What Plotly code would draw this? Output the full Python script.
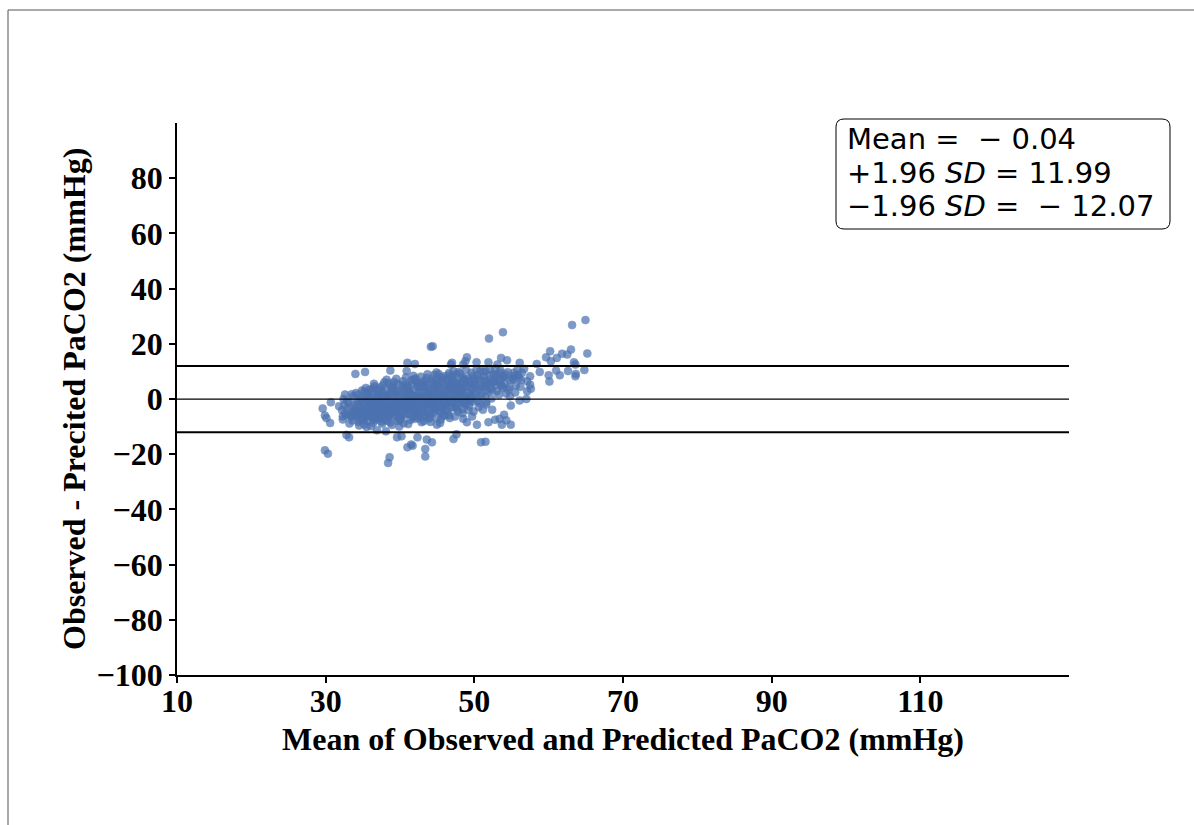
import plotly.graph_objects as go

# ---- summary statistics ----
mean_diff = -0.04
upper_loa = 11.99
lower_loa = -12.07

# ---- core cloud (mean of observed & predicted, difference) ----
x_core = [
    32.2, 32.5, 32.8, 32.9, 32.6, 32.3, 32.9,
    33.1, 33.3, 33.4, 33.6, 33.7, 33.8, 33.2, 33.5, 33.9, 33.6,
    34.0, 34.1, 34.2, 34.3, 34.4, 34.5, 34.6, 34.7, 34.8, 34.9, 34.2, 34.5, 34.8, 34.4,
    35.0, 35.1, 35.2, 35.3, 35.4, 35.5, 35.6, 35.7, 35.8, 35.9, 35.2, 35.4, 35.6, 35.8, 35.1, 35.9,
    36.0, 36.1, 36.2, 36.3, 36.4, 36.5, 36.6, 36.7, 36.8, 36.9, 36.2, 36.4, 36.6, 36.8, 36.1, 36.5, 36.7, 36.9,
    37.0, 37.1, 37.2, 37.3, 37.4, 37.5, 37.6, 37.7, 37.8, 37.9, 37.2, 37.4, 37.6, 37.8, 37.1, 37.5, 37.7, 37.9,
    38.0, 38.1, 38.2, 38.3, 38.4, 38.5, 38.6, 38.7, 38.8, 38.9, 38.2, 38.4, 38.6, 38.8, 38.1, 38.5, 38.7, 38.9,
    39.0, 39.1, 39.2, 39.3, 39.4, 39.5, 39.6, 39.7, 39.8, 39.9, 39.2, 39.4, 39.6, 39.8, 39.1, 39.5, 39.7, 39.9,
    40.0, 40.1, 40.2, 40.3, 40.4, 40.5, 40.6, 40.7, 40.8, 40.9, 40.2, 40.4, 40.6, 40.8, 40.1, 40.5, 40.7, 40.9,
    41.0, 41.1, 41.2, 41.3, 41.4, 41.5, 41.6, 41.7, 41.8, 41.9, 41.2, 41.4, 41.6, 41.8, 41.1, 41.5, 41.7, 41.9,
    42.0, 42.1, 42.2, 42.3, 42.4, 42.5, 42.6, 42.7, 42.8, 42.9, 42.2, 42.4, 42.6, 42.8, 42.1, 42.5, 42.7, 42.9,
    43.0, 43.1, 43.2, 43.3, 43.4, 43.5, 43.6, 43.7, 43.8, 43.9, 43.2, 43.4, 43.6, 43.8, 43.1, 43.5, 43.7, 43.9,
    44.0, 44.1, 44.2, 44.3, 44.4, 44.5, 44.6, 44.7, 44.8, 44.9, 44.2, 44.4, 44.6, 44.8, 44.1, 44.5, 44.7, 44.9,
    45.0, 45.1, 45.2, 45.3, 45.4, 45.5, 45.6, 45.7, 45.8, 45.9, 45.2, 45.4, 45.6, 45.8, 45.1, 45.5, 45.7, 45.9,
    46.0, 46.1, 46.2, 46.3, 46.4, 46.5, 46.6, 46.7, 46.8, 46.9, 46.2, 46.4, 46.6, 46.8, 46.1, 46.5, 46.7, 46.9,
    47.0, 47.1, 47.2, 47.3, 47.4, 47.5, 47.6, 47.7, 47.8, 47.9, 47.2, 47.4, 47.6, 47.8, 47.1, 47.5, 47.7, 47.9,
    48.0, 48.1, 48.2, 48.3, 48.4, 48.5, 48.6, 48.7, 48.8, 48.9, 48.2, 48.4, 48.6, 48.8, 48.1, 48.5,
    49.0, 49.1, 49.2, 49.3, 49.4, 49.5, 49.6, 49.7, 49.8, 49.9, 49.2, 49.6, 49.8, 49.4,
    50.0, 50.2, 50.4, 50.5, 50.7, 50.9, 50.3, 50.6, 50.8, 50.1,
    51.1, 51.3, 51.5, 51.7, 51.9, 51.2, 51.6, 51.8,
    52.1, 52.4, 52.6, 52.8, 52.3, 52.9,
    53.2, 53.5, 53.8, 53.3, 53.9,
    54.1, 54.5, 54.8, 54.3,
    55.4, 55.8, 56.3, 56.7, 55.6,
]
y_core = [
    -4.1, -2.3, -6.0, -0.8, -5.2, -7.4, -3.5,
    -1.2, -5.6, -3.0, -7.8, 0.9, -4.4, -8.9, 1.7, -2.1, -6.5,
    -3.7, 2.2, -6.1, -1.0, -8.3, -4.9, 0.4, -2.8, -7.0, 3.1, -5.3, -9.6, -0.3, 1.5,
    -4.2, -1.9, 2.7, -6.8, -3.3, 0.8, -8.1, -5.0, 1.9, -2.4, -9.2, 4.0, -0.6, -6.2, -7.5, 3.4,
    -3.0, 0.2, -5.7, 2.9, -8.6, -1.4, 4.6, -4.5, -6.9, 1.1, -2.2, 3.8, -7.7, -0.5, -9.8, 5.5, -3.6, -5.1,
    -2.6, 1.6, -7.2, 4.2, -4.0, -0.1, -9.0, 2.4, -5.9, 6.1, -1.7, 3.3, -3.2, 0.7, -6.4, -8.2, 5.0, -2.9,
    -4.8, 0.9, 3.6, -7.9, -1.1, 5.8, -5.5, 2.0, -3.4, -9.4, 7.0, -6.6, -0.4, 4.4, -2.5, 1.3, -8.5, -4.3,
    -2.0, 4.9, -6.3, 1.8, -3.9, 7.3, -0.7, -8.0, 3.0, -5.2, 6.2, -1.5, 2.6, -7.1, -4.6, 0.3, 5.4, -10.0,
    -3.1, 2.3, -6.0, 5.1, -0.9, -8.8, 3.9, -4.1, 7.8, 0.5, -2.4, 6.4, -5.8, 1.4, -7.3, -1.8, 4.7, -3.7,
    -1.3, 4.1, -5.4, 2.1, -7.6, 6.7, -2.7, 0.6, 8.4, -4.4, 3.2, -0.2, 5.6, -6.2, -9.1, 1.7, -3.5, 7.1,
    -2.2, 3.4, -5.0, 6.0, 0.1, -7.0, 4.5, -1.6, 8.1, -3.8, 1.2, -6.1, 2.8, -0.6, 7.4, -4.7, 5.3, -8.4,
    0.9, -3.3, 5.2, -6.4, 2.5, -1.0, 7.6, -4.9, 3.7, -0.3, -8.0, 6.5, -2.5, 1.6, 4.4, -5.6, 9.0, -7.2,
    1.9, -2.8, 6.3, -5.3, 3.5, -0.4, 8.7, -3.6, 4.8, -6.8, 0.6, 7.2, -1.7, 2.4, -8.3, 5.7, -4.3, 9.6,
    2.6, -1.4, 5.9, -4.2, 0.8, 7.9, -2.9, 3.9, -6.0, 1.5, 9.1, -0.6, 6.1, -3.4, 4.3, -7.4, 0.2, 8.2,
    1.1, 4.6, -2.1, 7.0, -4.8, 2.9, 9.4, -0.8, 5.5, -3.0, 0.4, 6.8, -5.9, 3.2, -1.7, 8.6, -6.9, 1.9,
    3.6, -0.5, 6.6, -3.1, 1.4, 8.9, -1.9, 4.5, -4.6, 2.3, 10.1, -6.3, 5.8, 0.0, 7.7, -2.6, 3.0, 9.8,
    2.0, 5.3, -1.2, 8.0, -3.7, 4.0, 0.7, 6.9, -2.2, 10.4, 3.1, -5.2, 7.5, 1.2, 9.2, -0.9,
    4.4, 0.3, 7.4, -2.5, 5.9, 2.2, 9.5, -1.0, 3.8, 6.5, -4.0, 1.0, 8.3, -0.1,
    5.1, 1.8, 8.6, -0.6, 3.6, 6.8, 10.7, -2.9, 2.0, 7.3,
    4.3, 8.0, 0.9, 6.0, 2.6, 9.9, -1.2, 5.4,
    7.1, 3.2, 9.0, 5.0, 0.2, 7.8,
    6.2, 10.4, 3.9, 1.5, 8.1,
    5.6, 9.7, 6.8, 2.0,
    8.4, 10.6, 6.9, 10.9, 4.9,
]

# ---- extra points in the densest part of the cloud ----
x_dense = [
    34.3, 34.7, 34.9, 35.3, 35.5, 35.7, 35.9, 36.0, 36.3, 36.5, 36.7, 36.9, 37.0, 37.3, 37.5,
    37.7, 37.9, 38.0, 38.3, 38.5, 38.7, 38.9, 39.0, 39.3, 39.5, 39.7, 39.9, 40.0, 40.3, 40.5,
    40.7, 40.9, 41.0, 41.3, 41.5, 41.7, 41.9, 42.0, 42.3, 42.5, 42.7, 42.9, 43.0, 43.3, 43.5,
    43.7, 43.9, 44.0, 44.3, 44.5, 44.7, 44.9, 45.0, 45.3, 45.5, 45.7, 45.9, 46.0, 46.3, 46.5,
    46.7, 46.9, 47.0, 47.3, 47.5, 47.7, 47.9, 48.0, 48.3, 48.5, 48.7, 48.9, 49.1, 49.3, 49.5,
    49.7, 49.9, 50.2, 50.5, 50.8, 51.0, 51.4, 51.7, 52.0, 52.5, 53.0, 53.6, 54.0, 54.7, 55.2, 55.9,
    36.2, 36.8, 37.2, 37.8, 38.2, 38.6, 39.2, 39.6, 40.2, 40.6, 41.2, 41.6, 42.2, 42.6, 43.2,
    43.6, 44.2, 44.6, 45.2, 45.6, 46.2, 46.6, 47.2, 47.6, 48.2, 48.6, 35.0, 35.6, 34.1, 33.9,
    33.4, 34.6, 36.4, 38.0, 40.0, 42.0, 44.0, 46.0, 39.0, 41.0, 43.0, 45.0, 47.0, 37.0, 35.5,
]
y_dense = [
    -2.0, -4.0, -6.0, -1.0, -3.6, -5.8, -0.2, -4.8, -2.7, -6.2, 0.6, -3.2, -5.3, -1.2, -3.8,
    -6.7, 1.2, -2.0, -4.4, -6.0, -0.9, 2.6, -3.4, -5.7, -1.9, 0.9, -3.0, -6.5, -1.3, 1.6,
    -2.8, -5.1, 3.0, -0.7, -4.0, -6.6, 1.0, -2.9, 4.4, -1.1, -5.5, 2.2, -3.9, 0.3, 4.9,
    -1.7, -5.3, 3.0, -0.9, -3.0, 5.3, 1.3, -2.3, 3.4, -5.0, 6.9, -0.9, 2.4, -3.8, 5.0,
    0.0, 3.8, -1.4, 5.2, 1.8, -3.5, 6.0, 0.3, 3.6, 6.3, -1.5, 4.8, 2.2, 6.4, -0.6,
    4.1, 1.2, 4.6, 7.4, 4.9, 1.0, 6.7, 3.4, 8.7, 6.1, 8.9, 5.1, 8.0, 4.2, 7.0, 8.7,
    -1.8, -4.0, -0.6, -2.4, -5.1, -3.0, -2.5, -4.4, -4.5, -0.2, -2.0, -1.0, -3.6, 0.5, -2.0,
    1.2, -1.8, 2.2, -0.2, 1.0, -1.0, 4.2, 0.8, 2.7, 1.9, -0.4, -6.5, -4.3, -5.0, -4.9,
    -6.2, -7.6, -7.0, -7.4, -7.8, -7.2, -6.5, -6.0, 4.0, 5.0, 6.2, 7.0, 8.3, 3.0, 2.0,
]

# ---- scattered points outside the dense cloud ----
x_outer = [
    64.95, 63.15, 53.85, 51.97, 44.15, 44.4, 65.2, 63.0, 61.8, 61.1, 60.2, 59.65, 60.3, 62.5,
    63.4, 63.6, 64.8, 63.65, 63.6, 62.6, 61.5, 61.0, 60.1, 60.0, 58.8, 58.4, 57.5, 57.6, 57.1,
    57.0, 56.1, 56.1, 54.9, 54.8, 54.4, 53.6, 53.1, 51.9, 50.3, 49.0, 48.8, 48.5, 47.0, 46.85,
    42.0, 41.0, 40.9, 38.7, 35.3, 34.0,
    29.6, 29.9, 30.3, 30.6, 30.1, 29.9, 30.7, 31.8, 32.3, 32.8, 33.15, 32.6, 32.4,
    38.4, 38.6, 41.0, 41.5, 41.7, 43.4, 43.4, 43.6, 44.3, 42.35, 40.2, 39.6, 38.1, 36.9, 35.5,
    47.2, 47.6, 50.9, 51.5, 44.96, 45.4,
    53.7, 52.8, 51.9, 50.35, 49.0, 48.5, 49.7, 49.9, 51.15, 51.6, 52.4, 54.0, 54.3, 54.9, 53.4, 50.7,
    50.8, 51.5, 52.1, 52.8, 53.5, 54.2, 55.1, 55.3, 56.0, 56.4, 57.1, 57.5, 56.2, 55.5, 54.6,
    53.7, 53.0, 52.2, 51.5, 52.6, 53.5,
]
y_outer = [
    28.6, 26.8, 24.2, 21.9, 18.9, 19.1, 16.5, 17.9, 16.4, 14.9, 17.3, 15.1, 13.7, 16.1,
    13.3, 12.5, 10.5, 9.1, 8.25, 10.1, 8.6, 10.3, 6.3, 8.6, 9.8, 12.7, 8.2, 3.7, 2.8,
    0.0, 13.1, -0.5, -2.4, 1.0, 14.05, 14.9, 12.5, 13.3, 13.3, 15.1, 13.7, 12.5, 13.1, 12.5,
    12.7, 13.1, 10.1, 10.3, 9.8, 9.1,
    -3.4, -18.6, -19.8, -8.7, -6.9, -6.0, -1.2, -2.6, -6.3, -13.0, -13.9, 1.6, 0.0,
    -23.2, -21.1, -17.5, -16.5, -16.9, -20.8, -18.1, -14.7, -15.7, -13.9, -13.5, -13.9, -11.7, -11.3, -10.1,
    -14.5, -12.8, -15.7, -15.5, -9.3, -8.7,
    -9.3, -7.5, -8.4, -9.3, -8.4, -7.2, -6.3, -4.5, -3.9, -2.0, -3.9, -5.7, -7.7, -9.3, -7.2, -1.4,
    10.1, 10.1, 10.7, 11.0, 9.5, 8.9, 7.6, 9.5, 7.6, 9.5, 6.4, 5.2, 4.4, 2.4, 3.4,
    4.6, 2.8, 4.0, 4.6, 6.4, 7.0,
]

x_ticks = [10, 30, 50, 70, 90, 110]
y_ticks = [-100, -80, -60, -40, -20, 0, 20, 40, 60, 80]

stats_lines = [
    "Mean =  − 0.04",
    "+1.96 <i>SD</i> = 11.99",
    "−1.96 <i>SD</i> =  − 12.07",
]

# ---- layout geometry (pixels) ----
W, H = 1194, 825
ML, MR, MT, MB = 177, 125, 123, 150
PW, PH = W - ML - MR, H - MT - MB


def px_x(p):
    return (p - ML) / PW


def px_y(p):
    return (H - MB - p) / PH


fig = go.Figure()
fig.add_trace(go.Scatter(
    x=x_core + x_dense + x_outer, y=y_core + y_dense + y_outer, mode="markers",
    marker=dict(size=8, color="#4C72B0", opacity=0.72,
                line=dict(width=0.6, color="#4C72B0")),
    showlegend=False, hoverinfo="x+y",
))

shapes = []
for val, w in [(upper_loa, 2), (mean_diff, 1.2), (lower_loa, 2)]:
    shapes.append(dict(type="line", xref="paper", yref="y", x0=0, x1=1,
                       y0=val, y1=val, line=dict(color="black", width=w), layer="above"))

# rounded text box
bx0, bx1, by0, by1, r = px_x(836), px_x(1170), px_y(119), px_y(229), 8
rx, ry = r / PW, r / PH
path = (f"M {bx0+rx},{by0} L {bx1-rx},{by0} Q {bx1},{by0} {bx1},{by0-ry} "
        f"L {bx1},{by1+ry} Q {bx1},{by1} {bx1-rx},{by1} L {bx0+rx},{by1} "
        f"Q {bx0},{by1} {bx0},{by1+ry} L {bx0},{by0-ry} Q {bx0},{by0} {bx0+rx},{by0} Z")
shapes.append(dict(type="path", xref="paper", yref="paper", path=path,
                   line=dict(color="black", width=1), fillcolor="white", layer="above"))

# outer frame (top and left edges)
shapes.append(dict(type="line", xref="paper", yref="paper", x0=px_x(8), x1=px_x(W),
                   y0=px_y(10), y1=px_y(10), line=dict(color="#555555", width=1)))
shapes.append(dict(type="line", xref="paper", yref="paper", x0=px_x(8), x1=px_x(8),
                   y0=px_y(10), y1=px_y(H), line=dict(color="#555555", width=1)))

annotations = []
for line, cy in zip(stats_lines, [139, 173, 206]):
    annotations.append(dict(xref="paper", yref="paper", x=px_x(845), y=px_y(cy),
                            xanchor="left", yanchor="middle", showarrow=False, text=line,
                            font=dict(family="DejaVu Sans", size=29, color="black")))

serif = "Liberation Serif"
annotations.append(dict(xref="paper", yref="paper", x=0.5, y=px_y(739),
                        xanchor="center", yanchor="middle", showarrow=False,
                        text="<b>Mean of Observed and Predicted PaCO2 (mmHg)</b>",
                        font=dict(family=serif, size=32, color="black")))
annotations.append(dict(xref="paper", yref="paper", x=px_x(74), y=0.5,
                        xanchor="center", yanchor="middle", showarrow=False, textangle=-90,
                        text="<b>Observed - Precited PaCO2 (mmHg)</b>",
                        font=dict(family=serif, size=32, color="black")))

axis_common = dict(showline=True, linecolor="black", linewidth=1.5, ticks="outside",
                   ticklen=6, tickwidth=1.5, tickcolor="black", showgrid=False,
                   zeroline=False, mirror=False,
                   tickfont=dict(family=serif, size=32, color="black", weight="bold"))

fig.update_layout(
    width=W, height=H, margin=dict(l=ML, r=MR, t=MT, b=MB),
    paper_bgcolor="white", plot_bgcolor="white",
    xaxis=dict(range=[10, 130], tickvals=x_ticks, ticklabelstandoff=-9, **axis_common),
    yaxis=dict(range=[-100, 100], tickvals=y_ticks, **axis_common),
    shapes=shapes, annotations=annotations,
)

fig.write_html("out.html")
